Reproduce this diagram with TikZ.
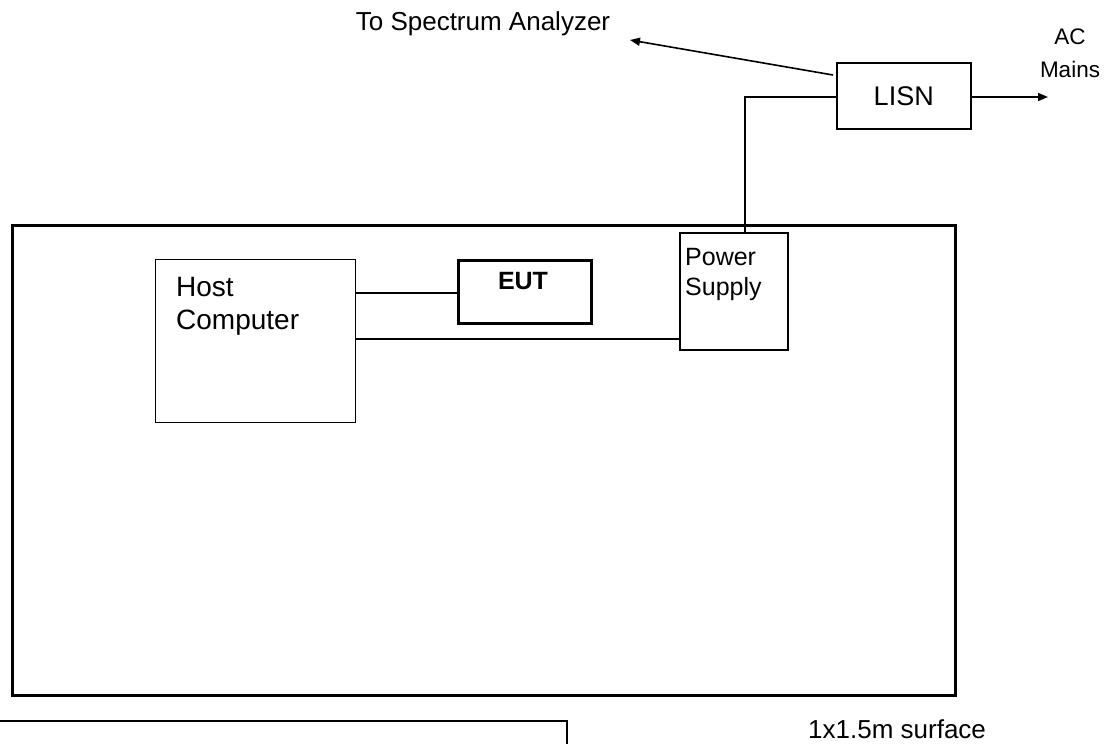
\documentclass[tikz,border=0pt]{standalone}
\usepackage{fontspec}
\setmainfont{Liberation Sans}
\usetikzlibrary{arrows.meta,calc}
\tikzset{
  unit/.style={draw, line width=#1, minimum width=0pt, minimum height=0pt, inner sep=0pt, anchor=north west},
  lbl/.style={inner sep=0pt, font=\fontsize{25}{34}\selectfont},
  wire/.style={line width=2.2pt},
  arr/.style={line width=1.6pt, -{Triangle[length=10pt,width=8pt]}}
}
\begin{document}
\begin{tikzpicture}[x=1pt,y=-1pt]
\useasboundingbox (0,0) rectangle (1111,744);
% test table and the surface below it
\node[unit=2.8pt, minimum width=943pt, minimum height=470pt] (table) at (11,224) {};
\draw[line width=2.4pt] (-5,721) coordinate (sfl) -- (567,721) coordinate (sfr) -- (567,750) coordinate (sfb);
\node[lbl, anchor=base west, font=\fontsize{26}{30}\selectfont] (surf) at (808,738) {1x1.5m surface};
% units on the table
\node[unit=1pt, minimum width=200pt, minimum height=163pt] (host) at (155,259) {};
\node[lbl, anchor=north west, align=left, font=\fontsize{28}{33}\selectfont] (hostlbl) at (176,277) {Host\\Computer};
\node[unit=2.6pt, minimum width=133pt, minimum height=63pt] (eut) at (457,259) {};
\node[lbl, anchor=north, font=\fontsize{25}{30}\selectfont\bfseries] (eutlbl) at (523,272) {EUT};
\node[unit=1.8pt, minimum width=108pt, minimum height=117pt] (ps) at (679,232) {};
\node[lbl, anchor=north west, align=left, font=\fontsize{25}{30}\selectfont] (pslbl) at (685,248) {Power\\Supply};
% line impedance stabilisation network
\node[unit=1.5pt, minimum width=134pt, minimum height=66pt] (lisn) at (836,62) {};
\node[lbl, font=\fontsize{27}{32}\selectfont] (lisnlbl) at (lisn.center) {LISN};
\node[lbl, anchor=north, align=center, font=\fontsize{22.5}{33}\selectfont] (mains) at (1070,29) {AC\\Mains};
\node[lbl, font=\fontsize{26}{30}\selectfont] (sa) at (483,24) {To Spectrum Analyzer};
\coordinate (satip) at (630,40);
\coordinate (mainstip) at (1048,97);
% cabling
\draw[wire] (host.east |- 0,293) -- (eut.west |- 0,293);
\draw[wire] (host.east |- 0,339) -- (ps.west |- 0,339);
\draw[wire] (lisn.west |- 0,97) -| (ps.north -| 745,0);
\draw[arr] ($(lisn.north west)+(-3,13)$) -- (satip);
\draw[arr] (lisn.east |- 0,97) -- (mainstip);
\end{tikzpicture}
\end{document}
